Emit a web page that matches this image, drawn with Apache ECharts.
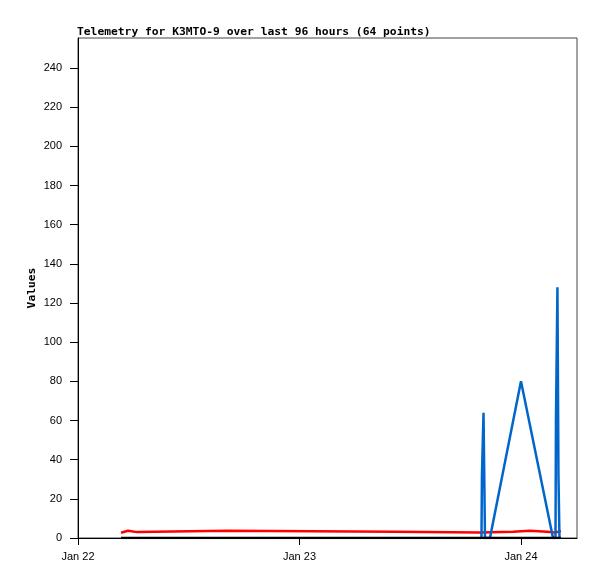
<!DOCTYPE html>
<html>
<head>
<meta charset="utf-8">
<script src="https://cdn.jsdelivr.net/npm/echarts@6/dist/echarts.min.js"></script>
<style>html,body{margin:0;padding:0;background:#fff}#c{width:597px;height:579px}</style>
</head>
<body>
<div id="c"></div>
<script>
// Hours since Jan 22 00:00
const xTickValues = [0, 24, 48];
const xTickLabels = ['Jan 22', 'Jan 23', 'Jan 24'];
const yTicks = [0, 20, 40, 60, 80, 100, 120, 140, 160, 180, 200, 220, 240];

const redHours = [4.66, 4.77, 5.42, 6.39, 16.14, 34.35, 43.56, 47.13, 48.97, 50.82, 51.68, 52.33];
const redValues = [2.7, 3.7, 3.0, 3.7, 3.2, 2.8, 3.2, 3.7, 3.2, 2.8, 3.5, 3.5];

const blueHours = [43.72, 43.77, 43.94, 44.10, 44.64, 48.0, 51.47, 51.74, 51.79, 51.95, 52.06, 52.17];
const blueValues = [0, 32, 64, 0, 0, 80, 0, 0, 60, 128, 32, 0];

const blackHours = [4.66, 52.33];
const blackValues = [0, 0];

const zip = (a, b) => a.map((v, i) => [v, b[i]]);

const chart = echarts.init(document.getElementById('c'));
chart.setOption({
  backgroundColor: '#fff',
  animation: false,
  title: {
    text: 'Telemetry for K3MTO-9 over last 96 hours (64 points)',
    left: 77, top: 27, padding: 0,
    textStyle: { fontFamily: 'DejaVu Sans Mono', fontWeight: 'bold', fontSize: 11.3, color: '#000' }
  },
  grid: { left: 78, right: 20, top: 38, bottom: 41, show: true, borderColor: '#444', borderWidth: 1, backgroundColor: 'transparent' },
  xAxis: {
    type: 'value', min: 0, max: 54.07, interval: 24,
    splitLine: { show: false },
    axisLine: { lineStyle: { color: '#000', width: 1 } },
    axisTick: { show: true, length: 7, lineStyle: { color: '#000' }, customValues: xTickValues },
    axisLabel: {
      customValues: xTickValues,
      margin: 13, color: '#000', fontFamily: 'Liberation Sans', fontSize: 11,
      formatter: v => xTickLabels[xTickValues.indexOf(v)] || ''
    }
  },
  yAxis: {
    type: 'value', min: 0, max: 255.3,
    name: 'Values', nameLocation: 'middle', nameGap: 40, nameRotate: 90, nameMoveOverlap: false,
    nameTextStyle: { fontFamily: 'DejaVu Sans Mono', fontWeight: 'bold', fontSize: 11.3, color: '#000' },
    splitLine: { show: false },
    axisLine: { show: true, lineStyle: { color: '#000', width: 1 } },
    axisTick: { show: true, length: 8, lineStyle: { color: '#000' }, customValues: yTicks },
    axisLabel: { customValues: yTicks, margin: 16, color: '#000', fontFamily: 'Liberation Sans', fontSize: 11 }
  },
  series: [
    { type: 'line', data: zip(redHours, redValues), step: 'end', symbol: 'none',
      lineStyle: { color: '#ff0000', width: 2.5 }, z: 2 },
    { type: 'line', data: zip(blueHours, blueValues), symbol: 'none',
      lineStyle: { color: '#0066cc', width: 2.5 }, z: 3 },
    { type: 'line', data: zip(blackHours, blackValues), symbol: 'none',
      lineStyle: { color: '#000', width: 2.5 }, z: 4 }
  ]
});
</script>
</body>
</html>
